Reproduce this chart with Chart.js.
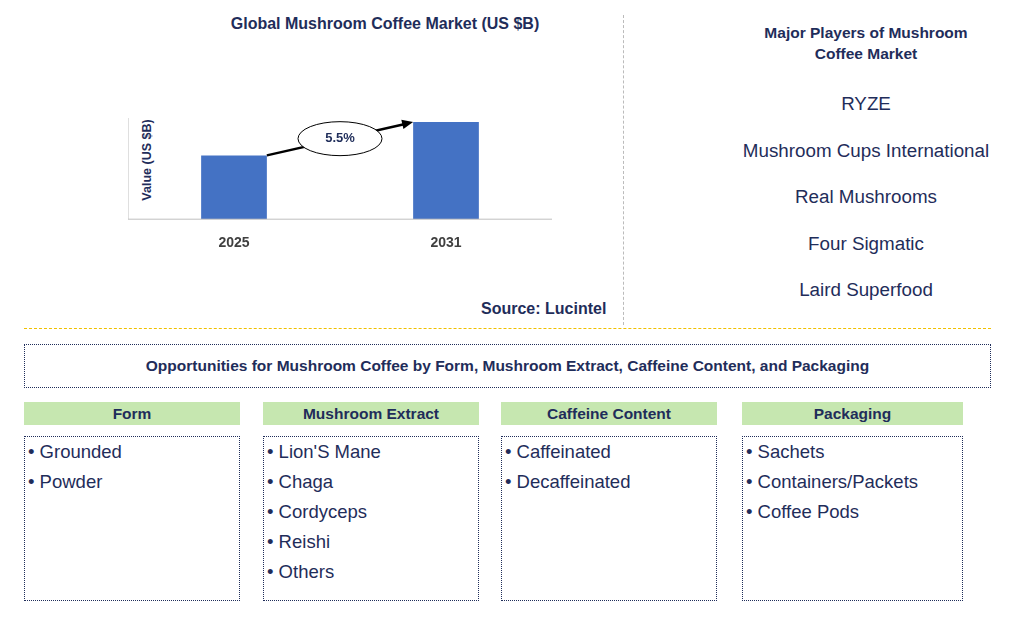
<!DOCTYPE html>
<html><head><meta charset="utf-8">
<script src="https://cdn.jsdelivr.net/npm/chart.js@4"></script>
<style>
body{margin:0;width:1015px;height:623px;background:#fff;font-family:"Liberation Sans",Arial,sans-serif;color:#1f2d5a;position:relative;overflow:hidden}
.a{position:absolute}
.b{font-weight:bold}
.hdr{position:absolute;top:402px;height:23px;background:#c6e7b0;font-weight:bold;font-size:15.5px;text-align:center;line-height:23px;color:#1f2d5a}
.box{position:absolute;top:436px;height:165px;border:1px dotted #1f2d5a;font-size:18.5px;line-height:30px;padding:0 0 0 3px;box-sizing:border-box;color:#1f2d5a}
</style></head><body>
<div class="a b" style="left:180px;top:15px;width:410px;text-align:center;font-size:16px">Global Mushroom Coffee Market (US $B)</div>
<div class="a b" style="width:180px;text-align:center;font-size:12.5px;transform:rotate(-90deg);transform-origin:90px 7px;left:57px;top:153px">Value (US $B)</div>
<div class="a" style="left:128px;top:110px;width:424px;height:150px"><canvas id="c"></canvas></div>
<div class="a b" style="left:481px;top:300px;font-size:16px">Source: Lucintel</div>
<div class="a" style="left:623px;top:15px;height:310px;border-left:1px dashed #bbb"></div>
<div class="a b" style="left:751px;top:22px;width:230px;text-align:center;font-size:15.5px;line-height:21px">Major Players of Mushroom Coffee Market</div>
<div id="players"></div>
<div class="a" style="left:24px;top:328px;width:967px;border-top:1px dashed #f0c000"></div>
<div class="a b" style="left:24px;top:344px;width:967px;height:44px;border:1px dotted #1f2d5a;box-sizing:border-box;text-align:center;line-height:42px;font-size:15.5px">Opportunities for Mushroom Coffee by Form, Mushroom Extract, Caffeine Content, and Packaging</div>
<div id="segs"></div>
<script>
const categories=["2025","2031"];
const values=[2.1,3.2];
const cagr="5.5%";
const players=["RYZE","Mushroom Cups International","Real Mushrooms","Four Sigmatic","Laird Superfood"];
const segTitles=["Form","Mushroom Extract","Caffeine Content","Packaging"];
const segItems=[["Grounded","Powder"],["Lion'S Mane","Chaga","Cordyceps","Reishi","Others"],["Caffeinated","Decaffeinated"],["Sachets","Containers/Packets","Coffee Pods"]];
const segX=[24,263,501,742];
players.forEach((p,i)=>{const d=document.createElement('div');d.className='a';d.style.cssText=`left:730px;width:272px;text-align:center;font-size:18.8px;top:${93+i*46.5}px;white-space:nowrap`;d.textContent=p;document.getElementById('players').appendChild(d);});
segTitles.forEach((t,i)=>{const s=document.getElementById('segs');const w=i==3?221:216;const h=document.createElement('div');h.className='hdr';h.style.left=segX[i]+'px';h.style.width=w+'px';h.textContent=t;s.appendChild(h);
const b=document.createElement('div');b.className='box';b.style.left=segX[i]+'px';b.style.width=w+'px';b.innerHTML=segItems[i].map(x=>'• '+x).join('<br>');s.appendChild(b);});
const deco={id:'deco',afterDatasetsDraw(ch){const c=ch.ctx,a=ch.chartArea,m=ch.getDatasetMeta(0).data;
c.save();c.strokeStyle='#bfbfbf';c.lineWidth=1;c.beginPath();c.moveTo(a.left,a.top);c.lineTo(a.left,a.bottom);c.lineTo(a.right,a.bottom);c.stroke();
const x1=m[0].x+m[0].width/2,y1=m[0].y,x2=m[1].x-m[1].width/2,y2=m[1].y;
c.strokeStyle='#000';c.lineWidth=2.5;c.beginPath();c.moveTo(x1,y1);c.lineTo(x2-8,y2+2);c.stroke();
const an=Math.atan2(y2-y1,x2-x1);c.fillStyle='#000';c.beginPath();c.moveTo(x2,y2);c.lineTo(x2-12*Math.cos(an-0.4),y2-12*Math.sin(an-0.4));c.lineTo(x2-12*Math.cos(an+0.4),y2-12*Math.sin(an+0.4));c.fill();
const cx=(x1+x2)/2,cy=(y1+y2)/2;c.fillStyle='#fff';c.lineWidth=1;c.beginPath();c.ellipse(cx,cy,42,17,0,0,Math.PI*2);c.fill();c.stroke();
c.fillStyle='#1f2d5a';c.font='bold 13px "Liberation Sans"';c.textAlign='center';c.textBaseline='middle';c.fillText(cagr,cx,cy);c.restore();}};
new Chart(document.getElementById('c'),{type:'bar',data:{labels:categories,datasets:[{data:values,backgroundColor:'#4472c4',categoryPercentage:1,barPercentage:0.31}]},
options:{responsive:true,maintainAspectRatio:false,animation:false,layout:{padding:{top:8}},plugins:{legend:{display:false},tooltip:{enabled:false}},
scales:{x:{grid:{display:false},border:{display:false},ticks:{color:'#404040',font:{family:'Liberation Sans',size:14,weight:'bold'},padding:8}},
y:{display:false,min:0,max:3.33}}},plugins:[deco]});
</script></body></html>
